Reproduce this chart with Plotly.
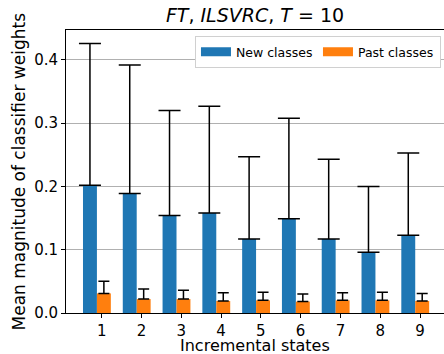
import plotly.graph_objects as go

states = [1, 2, 3, 4, 5, 6, 7, 8, 9]
new_mean = [0.202, 0.189, 0.154, 0.158, 0.117, 0.149, 0.117, 0.096, 0.123]
new_err = [0.224, 0.203, 0.166, 0.169, 0.130, 0.159, 0.126, 0.104, 0.130]
past_mean = [0.031, 0.022, 0.022, 0.019, 0.020, 0.018, 0.020, 0.020, 0.019]
past_err = [0.019, 0.016, 0.014, 0.013, 0.013, 0.012, 0.012, 0.013, 0.012]
series_names = ["New classes", "Past classes"]
series_colors = ["#1f77b4", "#ff7f0e"]

FONT = "DejaVu Sans"
H = 354

fig = go.Figure()
fig.add_trace(go.Bar(
    x=states, y=new_mean, name=series_names[0], showlegend=False,
    marker=dict(color=series_colors[0], line=dict(width=0)),
    width=0.35, offset=-0.47,
    error_y=dict(type="data", symmetric=False, array=new_err,
                 arrayminus=[0] * len(new_err),
                 color="black", thickness=1.5, width=11),
))
fig.add_trace(go.Bar(
    x=states, y=past_mean, name=series_names[1], showlegend=False,
    marker=dict(color=series_colors[1], line=dict(width=0)),
    width=0.35, offset=-0.12,
    error_y=dict(type="data", symmetric=False, array=past_err,
                 arrayminus=[0] * len(past_err),
                 color="black", thickness=1.5, width=5.5),
))
# legend keys drawn as wide patches, like the reference
for name, color in zip(series_names, series_colors):
    fig.add_trace(go.Scatter(x=[None], y=[None], mode="lines", name=name,
                             line=dict(color=color, width=9), hoverinfo="skip"))

fig.update_layout(
    width=444, height=H,
    margin=dict(l=66, r=0, t=30, b=41, autoexpand=False),
    barmode="overlay",
    plot_bgcolor="white", paper_bgcolor="white",
    font=dict(family=FONT, color="black", size=15),
    title=dict(text="<i>FT</i>, <i>ILSVRC</i>, <i>T</i> = 10",
               x=0.5, xref="paper", xanchor="center",
               y=1 - 15 / H, yref="container", yanchor="middle",
               font=dict(family=FONT, size=19, color="black")),
    legend=dict(orientation="h", x=0.992, xanchor="right", y=0.978, yanchor="top",
                bgcolor="white", bordercolor="#d0d0d0", borderwidth=1,
                font=dict(family=FONT, size=12.5), traceorder="normal",
                entrywidth=77),
    showlegend=True,
    annotations=[
        dict(text="Incremental states", xref="paper", yref="paper",
             x=0.5, y=-(346 - 313.3) / 283.3, xanchor="center", yanchor="middle",
             showarrow=False, font=dict(family=FONT, size=16, color="black")),
        dict(text="Mean magnitude of classifier weights", xref="paper", yref="paper",
             x=-(66 - 18) / 378, y=0.5, xanchor="center", yanchor="middle",
             textangle=-90, showarrow=False,
             font=dict(family=FONT, size=17, color="black")),
    ],
)
fig.update_xaxes(
    range=[0.103, 9.603], tickvals=states, ticktext=[str(s) for s in states],
    showline=True, linecolor="black", linewidth=1, mirror=True,
    ticks="outside", ticklen=4, tickcolor="black", showgrid=False,
    zeroline=False, automargin=False,
)
fig.update_yaxes(
    range=[0, 0.4474], tickvals=[0, 0.1, 0.2, 0.3, 0.4], tickformat=".1f",
    showline=True, linecolor="black", linewidth=1, mirror=False,
    ticks="outside", ticklen=4, tickcolor="black",
    showgrid=True, gridcolor="#b0b0b0", gridwidth=1, zeroline=False,
    automargin=False,
)

fig.write_html("out.html", config={"displayModeBar": False},
               post_script="document.body.style.margin='0';document.body.style.overflow='hidden';")
